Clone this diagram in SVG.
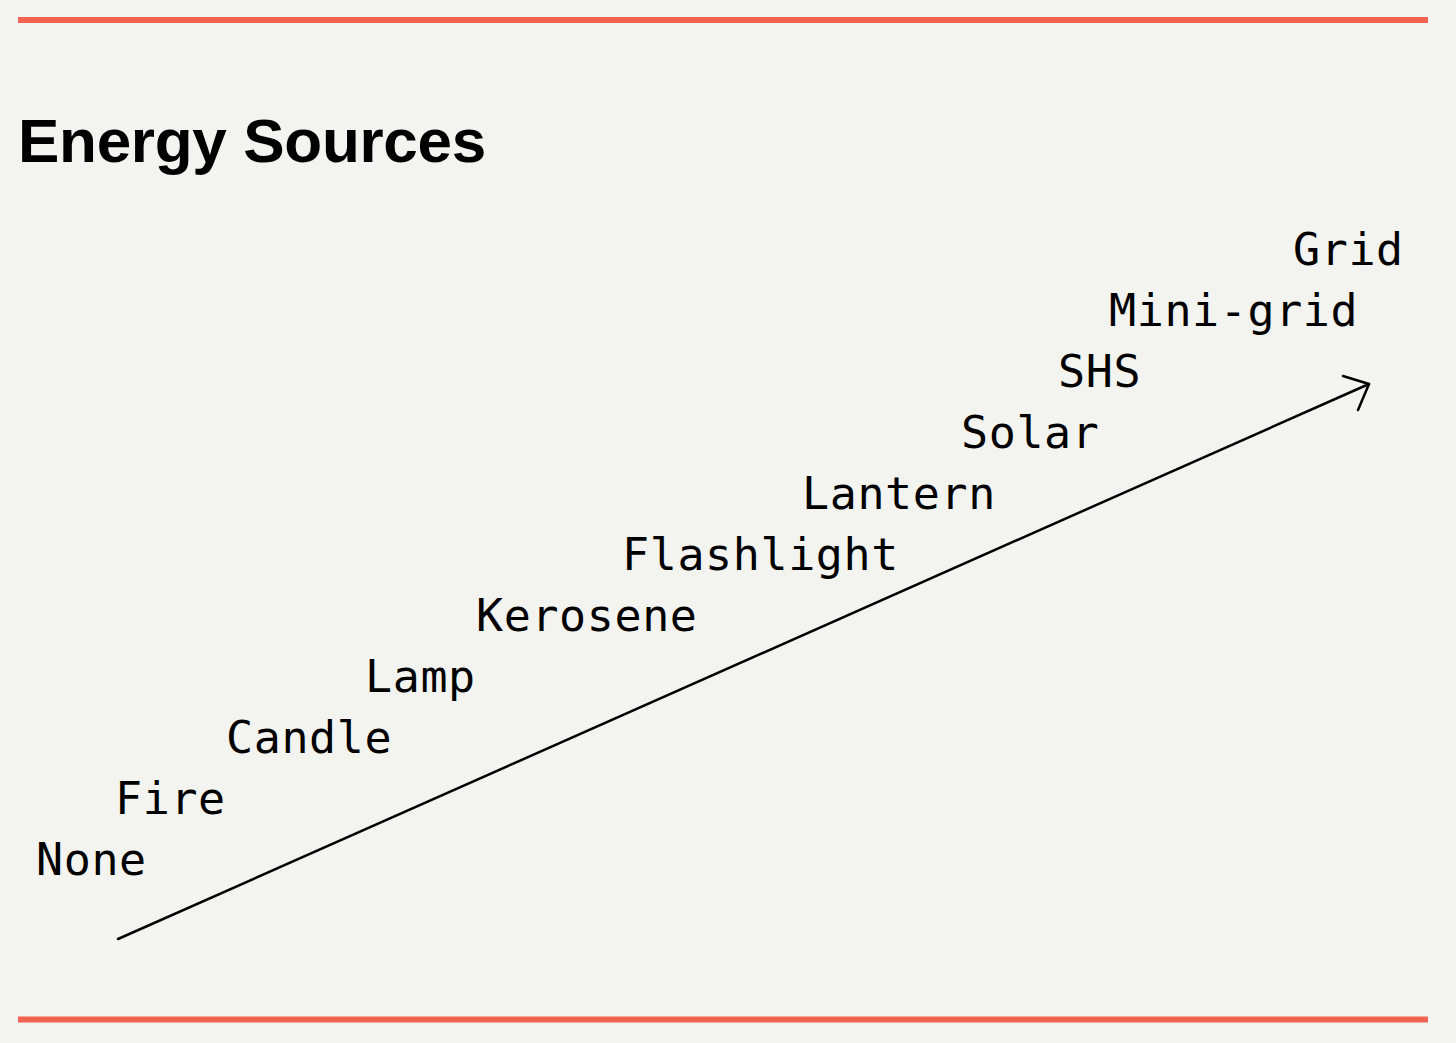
<svg xmlns="http://www.w3.org/2000/svg" width="1456" height="1043" viewBox="0 0 1456 1043">
<style>
.lbl{font-family:"DejaVu Sans Mono","Liberation Mono",monospace;font-size:45px;fill:#000;letter-spacing:0.6px}
.title{font-family:"Liberation Sans",Arial,sans-serif;font-weight:bold;font-size:62px;fill:#000;letter-spacing:-0.3px}
.rule{stroke:#f26451;stroke-width:6}
.conn{stroke:#000;stroke-width:2.5;fill:none;stroke-linecap:round;stroke-linejoin:round}
</style>
<rect width="1456" height="1043" fill="#f3f3ef"/>
<line class="rule" x1="18" y1="20" x2="1428" y2="20"/>
<line class="rule" x1="18" y1="1019.5" x2="1428" y2="1019.5"/>
<text class="title" x="18" y="162">Energy Sources</text>
<g id="connectors">
<line class="conn" x1="118" y1="939" x2="1369" y2="384"/>
<polyline class="conn" points="1343,376 1369,384 1358,410"/>
</g>
<g id="node-grid"><text class="lbl" x="1293" y="265">Grid</text></g>
<g id="node-minigrid"><text class="lbl" x="1109" y="326">Mini-grid</text></g>
<g id="node-shs"><text class="lbl" x="1058" y="387">SHS</text></g>
<g id="node-solar"><text class="lbl" x="961" y="448">Solar</text></g>
<g id="node-lantern"><text class="lbl" x="802" y="509">Lantern</text></g>
<g id="node-flashlight"><text class="lbl" x="622" y="570">Flashlight</text></g>
<g id="node-kerosene"><text class="lbl" x="476" y="631">Kerosene</text></g>
<g id="node-lamp"><text class="lbl" x="365" y="692">Lamp</text></g>
<g id="node-candle"><text class="lbl" x="226" y="753">Candle</text></g>
<g id="node-fire"><text class="lbl" x="115" y="814">Fire</text></g>
<g id="node-none"><text class="lbl" x="36" y="875">None</text></g>
</svg>
